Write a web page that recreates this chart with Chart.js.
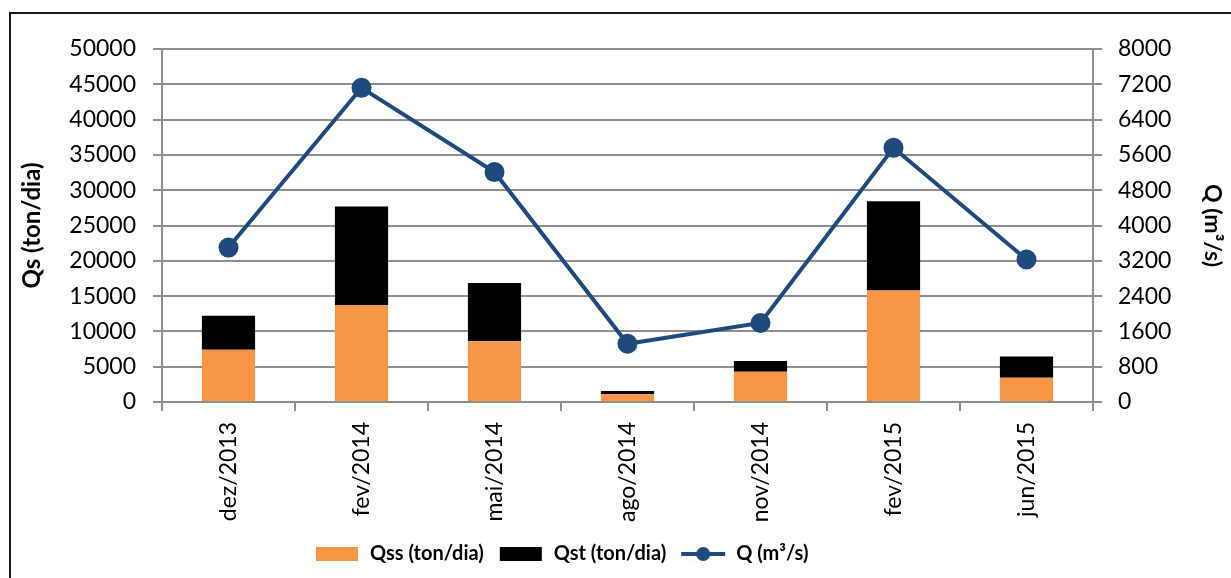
<!DOCTYPE html>
<html>
<head>
<meta charset="utf-8">
<script src="https://cdn.jsdelivr.net/npm/chart.js@4.4.0/dist/chart.umd.min.js"></script>
<style>
html, body { margin: 0; padding: 0; background: #fff; overflow: hidden; }
#frame { position: absolute; left: 9px; top: 12px; width: 1300px; height: 700px; border: 2px solid #1a1a1a; }
#wrap { position: absolute; left: 0; top: 0; width: 1231px; height: 578px; }
</style>
</head>
<body>
<div id="frame"></div>
<div id="wrap"><canvas id="chartCanvas" width="1231" height="578"></canvas></div>
<script>
// data
var categories = ['dez/2013', 'fev/2014', 'mai/2014', 'ago/2014', 'nov/2014', 'fev/2015', 'jun/2015'];
var qss = [7400, 13700, 8600, 1100, 4300, 15800, 3450];
var qst = [4800, 14000, 8250, 450, 1500, 12650, 3000];
var q = [3500, 7120, 5210, 1320, 1790, 5760, 3230];
var seriesNames = ['Qss (ton/dia)', 'Qst (ton/dia)', 'Q (m³/s)'];

var ORANGE = '#F79646';
var BLACK = '#000000';
var BLUE = '#1F4A7D';
var GRID = '#8f8f8f';

function legendIcon(kind, color) {
    var c = document.createElement('canvas');
    c.width = 46; c.height = 16;
    var g = c.getContext('2d');
    if (kind === 'box') {
        g.fillStyle = color;
        g.fillRect(2, 1, 42, 14);
    } else {
        g.strokeStyle = color;
        g.lineWidth = 4;
        g.beginPath(); g.moveTo(1, 8); g.lineTo(45, 8); g.stroke();
        g.fillStyle = color;
        g.beginPath(); g.arc(23, 8, 7, 0, Math.PI * 2); g.fill();
    }
    return c;
}
var icons = [legendIcon('box', ORANGE), legendIcon('box', BLACK), legendIcon('line', BLUE)];

// move the legend row so it starts where the reference one does
var legendShift = {
    id: 'legendShift',
    afterLayout: function(chart) {
        var lg = chart.legend;
        var w = lg.right - lg.left;
        lg.left = 316 - 2 - lg.options.labels.padding;
        lg.right = lg.left + w;
    }
};

var ctx = document.getElementById('chartCanvas').getContext('2d');
var tickFont = { family: 'Lato', size: 23 };
var plain = function(v) { return String(v); };

new Chart(ctx, {
    type: 'bar',
    data: {
        labels: categories,
        datasets: [
            { label: seriesNames[0], data: qss, backgroundColor: ORANGE, yAxisID: 'y', order: 1, barPercentage: 0.4, categoryPercentage: 1 },
            { label: seriesNames[1], data: qst, backgroundColor: BLACK, yAxisID: 'y', order: 1, barPercentage: 0.4, categoryPercentage: 1 },
            { type: 'line', label: seriesNames[2], data: q, yAxisID: 'y1', order: 0,
              borderColor: BLUE, borderWidth: 4, tension: 0,
              pointRadius: 10, pointBackgroundColor: BLUE, pointBorderWidth: 0, pointHoverRadius: 10 }
        ]
    },
    options: {
        responsive: false,
        animation: false,
        layout: { padding: { left: 0, right: 0, top: 49, bottom: 4 } },
        plugins: {
            tooltip: { enabled: false },
            legend: {
                position: 'bottom',
                align: 'start',
                labels: {
                    usePointStyle: true,
                    pointStyleWidth: 46,
                    boxHeight: 16,
                    padding: 14,
                    color: '#000',
                    font: { family: 'Lato', size: 20, weight: 'bold' },
                    generateLabels: function(chart) {
                        return seriesNames.map(function(name, i) {
                            return { text: name, pointStyle: icons[i], fillStyle: 'transparent',
                                     strokeStyle: 'transparent', lineWidth: 0, hidden: false, datasetIndex: i };
                        });
                    }
                }
            }
        },
        scales: {
            x: {
                stacked: true,
                offset: true,
                grid: { display: true, drawOnChartArea: false, drawTicks: true, tickLength: 9, color: GRID, lineWidth: 2 },
                border: { display: true, color: GRID, width: 2 },
                ticks: { minRotation: 90, maxRotation: 90, padding: 11, color: '#000', font: tickFont },
                afterFit: function(scale) { scale.height = 128; }
            },
            y: {
                position: 'left',
                stacked: true,
                min: 0, max: 50000,
                ticks: { stepSize: 5000, padding: 17, color: '#000', font: tickFont, callback: plain },
                grid: { color: GRID, lineWidth: 2, tickLength: 9 },
                border: { display: true, color: GRID, width: 2 },
                title: { display: true, text: 'Qs (ton/dia)', color: '#000',
                         font: { family: 'Lato', size: 24, weight: 'bold' }, padding: { top: 18, bottom: 0 } },
                afterFit: function(scale) { scale.width = 162; }
            },
            y1: {
                position: 'right',
                min: 0, max: 8000,
                ticks: { stepSize: 800, padding: 16, color: '#000', font: tickFont, callback: plain },
                grid: { drawOnChartArea: false, color: GRID, lineWidth: 2, tickLength: 9 },
                border: { display: true, color: GRID, width: 2 },
                title: { display: true, text: 'Q (m³/s)', color: '#000',
                         font: { family: 'Lato', size: 23, weight: 'bold' }, padding: { top: 5, bottom: 0 } },
                afterFit: function(scale) { scale.width = 138; }
            }
        }
    },
    plugins: [legendShift]
});
</script>
</body>
</html>
